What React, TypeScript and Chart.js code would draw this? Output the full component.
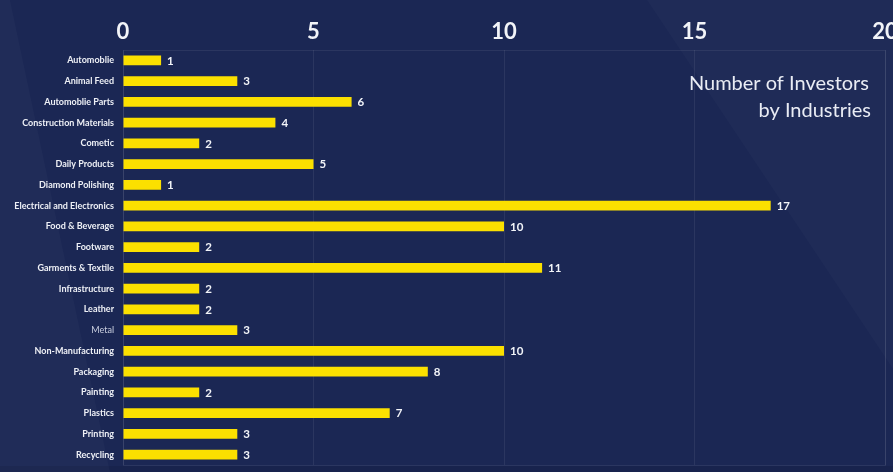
import React, { useEffect, useRef } from "react";
import { Chart, registerables } from "chart.js";

Chart.register(...registerables);

const industries = [
  "Automoblie",
  "Animal Feed",
  "Automoblie Parts",
  "Construction Materials",
  "Cometic",
  "Daily Products",
  "Diamond Polishing",
  "Electrical and Electronics",
  "Food & Beverage",
  "Footware",
  "Garments & Textile",
  "Infrastructure",
  "Leather",
  "Metal",
  "Non-Manufacturing",
  "Packaging",
  "Painting",
  "Plastics",
  "Printing",
  "Recycling",
];

const investors = [1, 3, 6, 4, 2, 5, 1, 17, 10, 2, 11, 2, 2, 3, 10, 8, 2, 7, 3, 3];

const titleLines = ["Number of Investors", "by Industries"];

const xMin = 0;
const xMax = 20;
const xStep = 5;

const FONT = "Lato, 'Open Sans', sans-serif";

const valueLabelPlugin = {
  id: "valueLabels",
  afterDatasetsDraw(chart: any) {
    const ctx = chart.ctx;
    const meta = chart.getDatasetMeta(0);
    ctx.save();
    ctx.font = `bold 11.5px ${FONT}`;
    ctx.fillStyle = "#f2f4f8";
    ctx.textAlign = "left";
    ctx.textBaseline = "middle";
    meta.data.forEach((bar: any, i: number) => {
      ctx.fillText(String(investors[i]), bar.x + 6, bar.y + 0.5);
    });
    ctx.restore();
  },
};

const frameTitlePlugin = {
  id: "frameTitle",
  beforeDatasetsDraw(chart: any) {
    const { ctx, chartArea } = chart;
    ctx.save();
    ctx.strokeStyle = "rgba(255,255,255,0.07)";
    ctx.lineWidth = 1;
    ctx.strokeRect(
      Math.round(chartArea.left) + 0.5,
      Math.round(chartArea.top) + 0.5,
      Math.round(chartArea.right - chartArea.left),
      Math.round(chartArea.bottom - chartArea.top)
    );
    ctx.restore();
  },
  afterDraw(chart: any) {
    const { ctx, chartArea } = chart;
    ctx.save();
    ctx.font = `20px ${FONT}`;
    ctx.fillStyle = "#e9ecf4";
    ctx.textAlign = "right";
    ctx.textBaseline = "middle";
    const right = chartArea.right - 14;
    ctx.fillText(titleLines[0], right - 2, chartArea.top + 34);
    ctx.fillText(titleLines[1], right, chartArea.top + 61);
    ctx.restore();
  },
};

export default function App() {
  const canvasRef = useRef<HTMLCanvasElement | null>(null);

  useEffect(() => {
    if (!canvasRef.current) return;
    const chart = new Chart(canvasRef.current, {
      type: "bar",
      data: {
        labels: industries,
        datasets: [
          {
            data: investors,
            backgroundColor: "#fbe000",
            borderWidth: 0,
            barPercentage: 0.48,
            categoryPercentage: 1,
          },
        ],
      },
      options: {
        indexAxis: "y",
        animation: false,
        responsive: true,
        maintainAspectRatio: false,
        layout: { padding: { top: 0, right: 8, bottom: 7, left: 0 } },
        plugins: {
          legend: { display: false },
          tooltip: { enabled: false },
          title: { display: false },
        },
        scales: {
          x: {
            type: "linear",
            position: "top",
            min: xMin,
            max: xMax,
            ticks: {
              stepSize: xStep,
              color: "#f2f4f8",
              font: { family: FONT, size: 22, weight: "bold" },
              padding: 5,
            },
            grid: {
              color: "rgba(255,255,255,0.07)",
              drawTicks: false,
            },
            border: { display: false },
            afterFit(scale: any) {
              scale.height = 50;
              scale.paddingLeft = 0;
              scale.paddingRight = 0;
            },
          },
          y: {
            type: "category",
            ticks: {
              color: (c: any) => (industries[c.index] === "Metal" ? "#c9cedf" : "#eef0f6"),
              font: (c: any) => ({
                family: FONT,
                size: 9,
                weight: industries[c.index] === "Metal" ? "normal" : "bold",
              }),
              padding: 9,
              autoSkip: false,
            },
            grid: { display: false, drawTicks: false },
            border: { display: false },
            afterFit(scale: any) {
              scale.width = 123;
              scale.paddingTop = 0;
              scale.paddingBottom = 0;
            },
          },
        },
      },
      plugins: [frameTitlePlugin, valueLabelPlugin],
    } as any);
    return () => chart.destroy();
  }, []);

  return (
    <div
      style={{
        position: "absolute",
        left: 0,
        top: 0,
        width: 893,
        height: 472,
        overflow: "hidden",
        background: "#1b2754",
      }}
    >
      <div
        style={{
          position: "absolute",
          inset: 0,
          background: "rgba(255,255,255,0.022)",
          clipPath: "polygon(0px 0px, 10px 0px, 110px 472px, 0px 472px)",
        }}
      />
      <div
        style={{
          position: "absolute",
          inset: 0,
          background: "rgba(255,255,255,0.018)",
          clipPath: "polygon(647px 0px, 893px 0px, 893px 369px)",
        }}
      />
      <div
        style={{
          position: "absolute",
          left: 0,
          top: 466,
          width: 893,
          height: 6,
          background: "rgba(0,0,0,0.08)",
        }}
      />
      <canvas ref={canvasRef} style={{ position: "relative" }} />
    </div>
  );
}
